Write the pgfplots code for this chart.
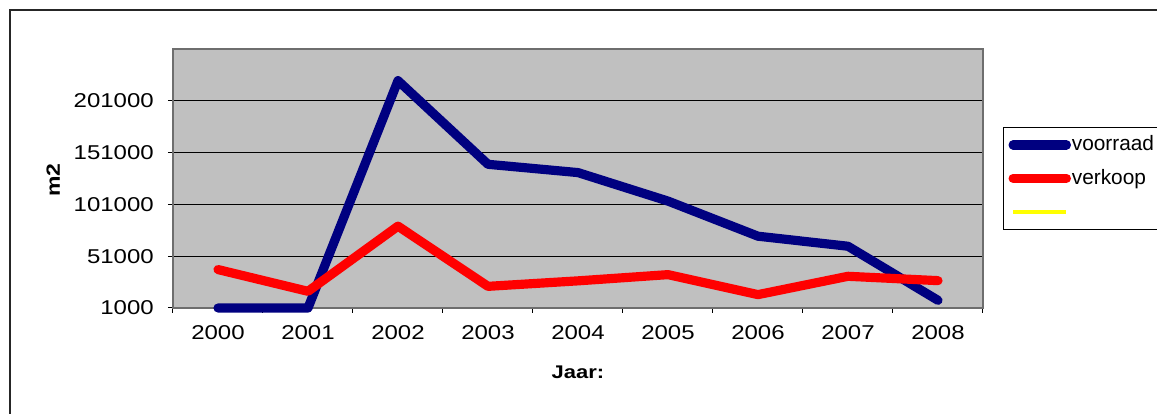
\documentclass[border=0pt]{standalone}
\usepackage{pgfplots}
\pgfplotsset{compat=1.18}
\usepackage{fontspec}
\setmainfont{Liberation Sans}
\newfontfamily\tickfont{Liberation Sans}[FakeStretch=1.2]
\definecolor{navyblue}{RGB}{0,0,128}
\definecolor{plotgray}{RGB}{192,192,192}
\definecolor{frame}{RGB}{110,110,110}
\definecolor{lyellow}{RGB}{255,255,0}
\begin{document}
\begin{tikzpicture}
\useasboundingbox (0,0) rectangle (694.2pt,248.4pt);
\fill[white] (0,0) rectangle (694.2pt,248.4pt);
\draw[line width=0.9pt, black!85] (6pt,-2pt) -- (6pt,242.4pt) -- (700pt,242.4pt);
\begin{axis}[
  scale only axis, width=486pt, height=155.4pt,
  at={(103.8pt,63.6pt)}, anchor=south west,
  xmin=-0.5, xmax=8.5, ymin=1000, ymax=251000,
  clip=false,
  scaled y ticks=false,
  axis background/.style={fill=plotgray},
  axis line style={draw=frame, line width=1.2pt},
  xtick={0,1,2,3,4,5,6,7,8},
  xticklabels={2000,2001,2002,2003,2004,2005,2006,2007,2008},
  major x tick style={draw=none},
  minor xtick={-0.5,0.5,1.5,2.5,3.5,4.5,5.5,6.5,7.5,8.5},
  minor x tick style={draw=black, line width=0.6pt},
  minor tick length=3pt,
  ytick={1000,51000,101000,151000,201000},
  yticklabels={1000,51000,101000,151000,201000},
  major y tick style={draw=black, line width=0.6pt},
  major tick length=3pt,
  tick align=outside,
  xtick pos=bottom, ytick pos=left,
  ymajorgrids,
  major grid style={draw=black, line width=0.6pt},
  ticklabel style={font=\tickfont\fontsize{12}{14}\selectfont},
  xticklabel style={yshift=-4pt},
  yticklabel style={xshift=-5pt},
  xlabel={Jaar:},
  ylabel={m2},
  xlabel style={at={(axis description cs:0.5,-0.247)}, anchor=center, font=\tickfont\bfseries\fontsize{11}{13}\selectfont},
  ylabel style={at={(axis description cs:-0.148,0.494)}, anchor=center, font=\tickfont\bfseries\fontsize{11.5}{13}\selectfont},
  legend style={at={(axis description cs:1.0247,0.699)}, anchor=north west,
    draw=black, line width=0.6pt, fill=white,
    font=\fontsize{12.5}{15}\selectfont,
    nodes={inner xsep=0.5pt, inner ysep=1pt, text height=10pt, text depth=3pt},
    row sep=5pt, inner xsep=3pt, inner ysep=3pt},
  legend cell align=left,
  legend image code/.code={\draw[#1] (0pt,0pt) -- (32pt,0pt);},
]
\addplot[navyblue, line width=5.5pt, line join=round, line cap=round] coordinates {
  (0,1000) (1,1000) (2,220400) (3,139700) (4,131700) (5,104200) (6,70300) (7,60600) (8,8400)};
\addlegendentry{voorraad}
\addplot[red, line width=5.5pt, line join=round, line cap=round] coordinates {
  (0,38100) (1,17100) (2,80000) (3,21900) (4,27200) (5,33200) (6,13900) (7,31600) (8,27400)};
\addlegendentry{verkoop}
\addlegendimage{lyellow, line width=2.4pt}
\addlegendentry{}
\end{axis}
\end{tikzpicture}
\end{document}
